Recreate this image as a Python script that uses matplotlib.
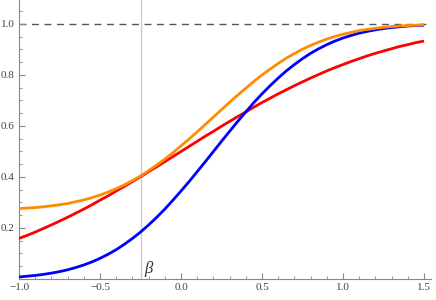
import matplotlib.pyplot as plt
from matplotlib.ticker import MultipleLocator, FuncFormatter

plt.rcParams['font.family'] = ['Liberation Serif', 'DejaVu Serif']

# values, x from -1.0 to 1.5 in steps of 0.05
x = [-1.0, -0.95, -0.9, -0.85, -0.8, -0.75, -0.7, -0.65, -0.6, -0.55, -0.5,
     -0.45, -0.4, -0.35, -0.3, -0.25, -0.2, -0.15, -0.1, -0.05, 0.0,
     0.05, 0.1, 0.15, 0.2, 0.25, 0.3, 0.35, 0.4, 0.45, 0.5,
     0.55, 0.6, 0.65, 0.7, 0.75, 0.8, 0.85, 0.9, 0.95, 1.0,
     1.05, 1.1, 1.15, 1.2, 1.25, 1.3, 1.35, 1.4, 1.45, 1.5]
red = [0.159, 0.171, 0.184, 0.198, 0.212, 0.227, 0.242, 0.258, 0.274, 0.291, 0.309,
       0.326, 0.345, 0.363, 0.382, 0.401, 0.421, 0.440, 0.460, 0.480, 0.500,
       0.520, 0.540, 0.560, 0.579, 0.599, 0.618, 0.637, 0.655, 0.674, 0.692,
       0.709, 0.726, 0.742, 0.758, 0.773, 0.788, 0.802, 0.816, 0.829, 0.841,
       0.853, 0.864, 0.875, 0.885, 0.894, 0.903, 0.912, 0.919, 0.927, 0.933]
blue = [0.008, 0.011, 0.014, 0.018, 0.023, 0.029, 0.036, 0.045, 0.055, 0.067, 0.081,
        0.097, 0.115, 0.136, 0.159, 0.184, 0.212, 0.242, 0.274, 0.309, 0.345,
        0.382, 0.421, 0.460, 0.500, 0.540, 0.579, 0.618, 0.655, 0.692, 0.726,
        0.758, 0.788, 0.816, 0.841, 0.864, 0.885, 0.903, 0.919, 0.933, 0.945,
        0.955, 0.964, 0.971, 0.977, 0.982, 0.986, 0.989, 0.992, 0.994, 0.995]
orange = [0.276, 0.278, 0.280, 0.283, 0.287, 0.291, 0.296, 0.303, 0.310, 0.319, 0.329,
          0.341, 0.354, 0.369, 0.386, 0.404, 0.425, 0.447, 0.470, 0.495, 0.522,
          0.549, 0.577, 0.606, 0.635, 0.664, 0.693, 0.721, 0.748, 0.775, 0.800,
          0.823, 0.845, 0.866, 0.884, 0.901, 0.916, 0.929, 0.941, 0.951, 0.960,
          0.967, 0.974, 0.979, 0.983, 0.987, 0.990, 0.992, 0.994, 0.995, 0.997]
beta = -0.25

fig = plt.figure(figsize=(4.36, 3.0), dpi=100)
ax = fig.add_axes([19 / 436, 21 / 300, 412 / 436, 279 / 300])

ax.axvline(beta, color='#cccccc', lw=1.0, zorder=1)
ax.axhline(1.0, color='#555555', lw=1.0, ls=(0, (5, 4)), zorder=1)

ax.plot(x, red, color='#ff0000', lw=2.0, solid_capstyle='butt', zorder=3)
ax.plot(x, blue, color='#0000ff', lw=2.0, solid_capstyle='butt', zorder=4)
ax.plot(x, orange, color='#ff8c00', lw=2.0, solid_capstyle='butt', zorder=5)

ax.text(beta + 0.025, 0.022, '\u03b2', fontsize=12, color='#333333',
        style='italic', va='baseline', ha='left')

ax.set_xlim(-1.0, 1.543)
ax.set_ylim(0, 1.094)

for s in ['top', 'right']:
    ax.spines[s].set_visible(False)
for s in ['left', 'bottom']:
    ax.spines[s].set_color('#888888')
    ax.spines[s].set_linewidth(0.8)

ax.xaxis.set_major_locator(MultipleLocator(0.5))
ax.xaxis.set_minor_locator(MultipleLocator(0.1))
ax.yaxis.set_major_locator(MultipleLocator(0.2))
ax.yaxis.set_minor_locator(MultipleLocator(0.05))

ax.xaxis.set_major_formatter(FuncFormatter(lambda v, p: f'{v:.1f}'.replace('-', '\u2212')))
ax.yaxis.set_major_formatter(FuncFormatter(lambda v, p: '' if abs(v) < 1e-9 else f'{v:.1f}'))

ax.tick_params(which='both', direction='in', color='#888888', labelcolor='#444444',
               labelsize=8, pad=3)
ax.tick_params(which='major', length=4, width=0.8)
ax.tick_params(which='minor', length=2.2, width=0.6)

fig.savefig('out.png', dpi=100)
